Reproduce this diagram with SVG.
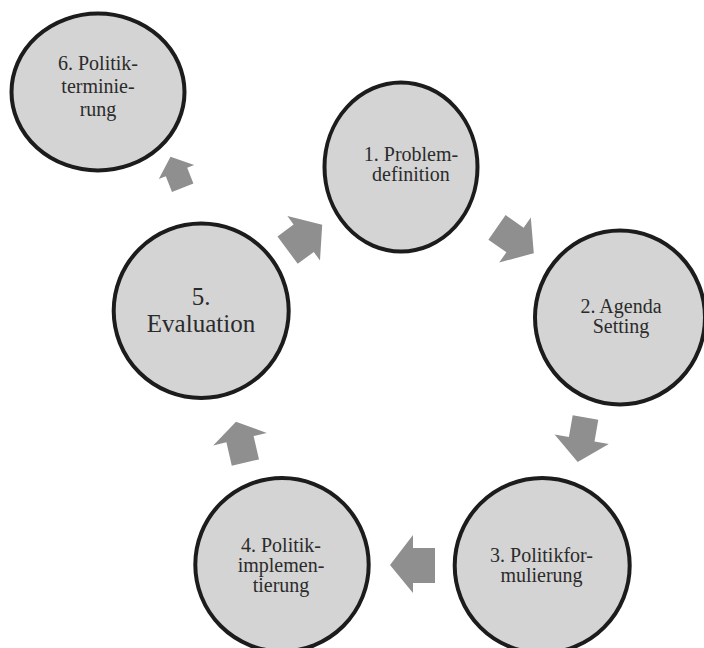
<svg xmlns="http://www.w3.org/2000/svg" width="704" height="648" viewBox="0 0 704 648">
<style>
.node{fill:#d4d4d4;stroke:#1c1c1c;stroke-width:4}
.lbl{font-family:'Liberation Serif','Times New Roman',Times,'DejaVu Serif','Noto Serif',serif;font-size:20px;fill:#2b2b2b;text-anchor:middle}
.big{font-size:25px}
.arr{fill:#8f8f8f;stroke:none}
</style>
<rect width="704" height="648" fill="#ffffff"/>
<g id="connectors">
<polygon class="arr" points="170.5,156.7 194.2,165 187.2,167.8 193.4,183.6 172,192 165.8,176.2 158.8,179"/>
<polygon class="arr" points="322.2,224.7 320,260.5 313.8,252 297.7,263.8 277.5,236.4 293.6,224.6 287.4,216.1"/>
<polygon class="arr" points="533.8,253.2 530.8,217.5 523.6,227.7 505.6,215.1 488.4,239.7 506.4,252.3 499.2,262.5"/>
<polygon class="arr" points="577.7,461.9 554.6,434.4 568.9,436.9 572.7,415.2 598.3,419.8 594.5,441.5 608.8,444"/>
<polygon class="arr" points="390,565 413,535 413,548 435,548 435,583 413,583 413,593"/>
<polygon class="arr" points="236,421.7 266.8,433 253.6,436.1 259,459.4 231.8,465.8 226.4,442.3 213.2,445.4"/>
</g>
<g id="node6">
<ellipse class="node" cx="98" cy="92" rx="86.5" ry="78.5"/>
<text class="lbl" x="98" y="70" font-family="Liberation Serif, serif">6. Politik-</text>
<text class="lbl" x="98" y="93">terminie-</text>
<text class="lbl" x="98" y="116">rung</text>
</g>
<g id="node1">
<ellipse class="node" cx="401" cy="167" rx="76.5" ry="84.5"/>
<text class="lbl" x="411" y="161">1. Problem-</text>
<text class="lbl" x="411" y="181">definition</text>
</g>
<g id="node2">
<ellipse class="node" cx="620" cy="317.5" rx="85" ry="87"/>
<text class="lbl" x="621" y="313">2. Agenda</text>
<text class="lbl" x="621" y="333">Setting</text>
</g>
<g id="node3">
<ellipse class="node" cx="542.2" cy="565.5" rx="87.5" ry="87.5"/>
<text class="lbl" x="541.5" y="562">3. Politikfor-</text>
<text class="lbl" x="541.5" y="582">mulierung</text>
</g>
<g id="node4">
<ellipse class="node" cx="282" cy="564.7" rx="86.7" ry="86.7"/>
<text class="lbl" x="281" y="552">4. Politik-</text>
<text class="lbl" x="281" y="572">implemen-</text>
<text class="lbl" x="281" y="592">tierung</text>
</g>
<g id="node5">
<ellipse class="node" cx="201.2" cy="310.8" rx="87.5" ry="87.2"/>
<text class="lbl big" x="201" y="305">5.</text>
<text class="lbl big" x="201" y="332">Evaluation</text>
</g>
</svg>
